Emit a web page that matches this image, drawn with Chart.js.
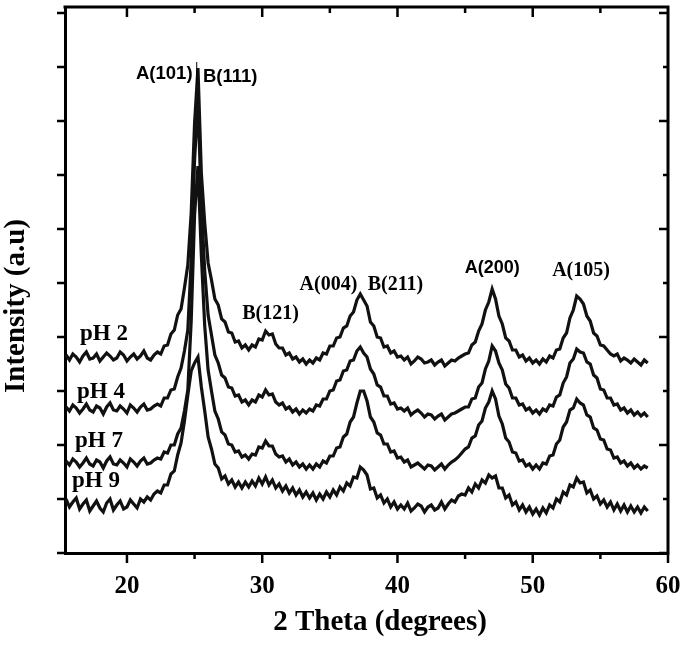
<!DOCTYPE html>
<html>
<head>
<meta charset="utf-8">
<title>XRD patterns</title>
<script src="https://cdn.jsdelivr.net/npm/chart.js@4.4.1/dist/chart.umd.min.js"></script>
<style>
  html, body { margin: 0; padding: 0; background: #fff; }
</style>
</head>
<body>
<canvas id="xrd" width="685" height="645"></canvas>
<script>
// scan grid, 2 theta from 15.5 to 58.5 in 0.25 deg steps
var theta = [];
for (var i = 0; i <= 172; i++) theta.push(15.5 + i * 0.25);

// intensities (a.u., curves already stacked with their offsets)
var ph2 = [198,193,199,196,191,197,201,194,195,199,192,196,200,197,193,195,201,198,192,196,199,194,197,202,195,193,198,
  201,199,207,208,219,223,238,244,
  265,288,340,430,485,380,330,290,
  273,254,248,234,231,221,220,211,212,205,208,203,
  208,206,214,213,222,218,219,209,
  205,205,198,200,194,196,191,194,189,193,
  190,195,193,200,199,207,207,215,216,225,227,237,241,253,
  259,253,247,231,227,216,215,206,207,200,202,196,
  197,193,196,189,192,196,194,190,191,193,188,191,193,187,190,193,192,195,197,199,
  200,208,211,222,229,243,251,264,
  254,237,229,215,212,203,203,196,198,192,195,190,
  193,189,194,191,197,195,203,204,215,220,235,243,
  257,254,249,237,232,220,217,208,
  207,203,199,197,199,192,195,193,190,194,191,188,193,190];

var ph4 = [146,142,148,145,140,144,149,143,141,147,145,139,146,150,143,142,147,144,140,148,145,141,146,149,143,144,147,
  149,147,155,155,163,164,176,185,
  202,223,292,393,452,348,282,238,
  218,198,190,178,175,166,165,157,158,151,153,148,
  153,151,158,156,163,158,159,151,
  148,150,144,146,141,144,139,143,140,144,
  142,148,147,154,154,162,163,172,173,182,183,192,193,202,
  206,200,196,184,179,168,166,157,157,149,150,144,
  145,142,145,138,141,143,140,136,139,138,134,137,139,133,136,139,140,142,144,146,
  146,154,155,166,170,184,192,207,
  202,190,183,169,165,155,155,148,149,143,145,140,
  143,139,144,142,148,147,156,158,170,176,190,194,
  204,201,200,191,189,178,175,164,
  163,155,155,148,149,143,145,140,143,138,141,137,140,136];

var ph7 = [92,88,94,91,86,90,95,89,87,93,91,85,92,96,89,88,93,90,86,94,91,87,92,95,89,90,93,
  95,94,101,100,108,108,119,125,
  142,163,232,338,387,298,227,183,
  162,142,134,121,118,109,108,101,102,96,98,94,
  99,98,106,105,112,107,107,99,
  96,97,91,94,88,91,86,89,84,88,
  84,89,86,92,90,97,97,105,106,116,119,131,136,150,
  162,162,152,136,131,120,118,109,109,101,102,95,
  96,91,93,86,88,90,87,84,88,87,83,86,89,84,88,91,93,96,100,104,
  106,115,117,128,132,145,151,162,
  154,137,129,115,111,101,100,92,93,87,89,84,
  88,84,90,89,97,98,109,113,126,131,143,145,
  154,150,148,138,136,125,123,114,
  113,104,103,95,96,90,92,87,90,85,88,84,87,85];

var ph9 = [54,46,51,55,44,49,53,42,47,52,45,41,50,54,43,48,52,44,46,53,49,45,54,51,56,53,59,
  62,60,68,68,79,82,98,110,
  132,158,182,190,196,166,142,116,
  104,89,85,74,77,69,73,66,71,65,71,66,
  72,67,75,69,76,68,73,65,
  69,62,67,60,65,58,63,56,61,55,
  60,53,59,54,61,56,63,58,66,62,70,67,76,75,
  86,83,78,64,65,55,58,50,54,46,51,44,
  48,44,50,42,45,49,47,41,46,48,43,45,51,44,49,53,51,57,59,58,
  65,61,69,65,73,70,78,75,
  77,65,65,55,58,48,51,43,48,41,46,39,
  44,38,45,40,48,45,54,51,61,58,68,66,
  75,70,71,60,63,54,57,49,
  53,46,51,43,49,42,48,41,47,41,46,40,46,42];

var seriesNames = ['pH 2', 'pH 4', 'pH 7', 'pH 9'];
var seriesData = [ph2, ph4, ph7, ph9];

var xTickValues = [20, 25, 30, 35, 40, 45, 50, 55, 60];
var yTickValues = [0, 54, 108, 162, 216, 270, 324, 378, 432, 486, 540];

// text placed in data units
var peakLabels = [
  { text: 'A(101)', t: 24.85, h: 479, align: 'right', font: 'bold 18.5px "Liberation Sans"' },
  { text: 'B(111)', t: 25.62, h: 476, align: 'left', font: 'bold 18.5px "Liberation Sans"' },
  { text: 'B(121)', t: 30.62, h: 239, align: 'center', font: 'bold 20px "Liberation Serif"' },
  { text: 'A(004)', t: 34.9, h: 268, align: 'center', font: 'bold 20px "Liberation Serif"' },
  { text: 'B(211)', t: 39.85, h: 268, align: 'center', font: 'bold 20px "Liberation Serif"' },
  { text: 'A(200)', t: 47.0, h: 285, align: 'center', font: 'bold 18px "Liberation Sans"' },
  { text: 'A(105)', t: 53.57, h: 282, align: 'center', font: 'bold 20px "Liberation Serif"' }
];
var phLabelPos = [ { t: 16.53, h: 219 }, { t: 16.31, h: 161 }, { t: 16.16, h: 112 }, { t: 15.94, h: 72 } ];

var datasets = seriesData.map(function (arr, k) {
  return {
    label: seriesNames[k],
    data: arr.map(function (v, j) { return { x: theta[j], y: v }; }),
    borderColor: '#111',
    borderWidth: 3.2,
    pointRadius: 0,
    tension: 0,
    fill: false
  };
});

var decorations = {
  id: 'decorations',
  afterDatasetsDraw: function (chart) {
    var c = chart.ctx, xs = chart.scales.x, ys = chart.scales.y;
    c.save();
    c.fillStyle = '#000';
    c.textBaseline = 'middle';
    peakLabels.forEach(function (l) {
      c.font = l.font;
      c.textAlign = l.align;
      c.fillText(l.text, xs.getPixelForValue(l.t), ys.getPixelForValue(l.h));
    });
    // marker line between A(101) and B(111)
    c.strokeStyle = '#000';
    c.lineWidth = 1;
    c.beginPath();
    c.moveTo(xs.getPixelForValue(25.16), ys.getPixelForValue(491));
    c.lineTo(xs.getPixelForValue(25.16), ys.getPixelForValue(468));
    c.stroke();
    c.font = 'bold 23px "Liberation Serif"';
    c.textAlign = 'left';
    seriesNames.forEach(function (n, k) {
      c.fillText(n, xs.getPixelForValue(phLabelPos[k].t), ys.getPixelForValue(phLabelPos[k].h));
    });
    c.restore();
  },
  afterDraw: function (chart) {
    var c = chart.ctx, a = chart.chartArea, xs = chart.scales.x, ys = chart.scales.y;
    c.save();
    c.strokeStyle = '#000';
    c.lineWidth = 3;
    c.beginPath();
    c.moveTo(a.left - 1.5, a.top);
    c.lineTo(a.right, a.top);
    c.lineTo(a.right, a.bottom + 1.5);
    c.stroke();
    c.lineWidth = 2.5;
    c.beginPath();
    yTickValues.forEach(function (v) {
      var y = ys.getPixelForValue(v);
      c.moveTo(a.left, y); c.lineTo(a.left - 8, y);
      var len = (v % 108 === 0) ? 9 : 5;
      c.moveTo(a.right, y); c.lineTo(a.right - len, y);
    });
    xTickValues.forEach(function (v) {
      var x = xs.getPixelForValue(v);
      var len = (v % 10 === 0) ? 10 : 6;
      c.moveTo(x, a.bottom); c.lineTo(x, a.bottom + len);
      if (v < 60) { c.moveTo(x, a.top); c.lineTo(x, a.top + len); }
    });
    c.stroke();
    // axis titles
    c.fillStyle = '#000';
    c.font = 'bold 29px "Liberation Serif"';
    c.textAlign = 'center';
    c.textBaseline = 'alphabetic';
    c.fillText('2 Theta (degrees)', 380, 630);
    c.translate(24, 306);
    c.rotate(-Math.PI / 2);
    c.fillText('Intensity (a.u)', 0, 0);
    c.restore();
  }
};

var ctx = document.getElementById('xrd').getContext('2d');
var xrdChart = new Chart(ctx, {
  type: 'line',
  data: { datasets: datasets },
  options: {
    responsive: false,
    animation: false,
    devicePixelRatio: 1,
    layout: { padding: { top: 7, right: 17, left: 0, bottom: 0 } },
    plugins: { legend: { display: false }, tooltip: { enabled: false } },
    scales: {
      x: {
        type: 'linear',
        min: 15.42,
        max: 60,
        afterBuildTicks: function (s) { s.ticks = xTickValues.map(function (v) { return { value: v }; }); },
        afterFit: function (s) { s.height = 92; s.paddingLeft = 0; s.paddingRight = 0; },
        grid: { display: false, drawTicks: true, tickLength: 8 },
        border: { display: true, color: '#000', width: 3 },
        ticks: {
          color: '#000',
          padding: 11,
          maxRotation: 0,
          font: { family: 'Liberation Serif', weight: 'bold', size: 25 },
          callback: function (v) { return v % 10 === 0 ? String(v) : ''; }
        }
      },
      y: {
        min: 0,
        max: 546,
        afterBuildTicks: function (s) { s.ticks = yTickValues.map(function (v) { return { value: v }; }); },
        afterFit: function (s) { s.width = 65; s.paddingTop = 0; s.paddingBottom = 0; },
        grid: { display: false },
        border: { display: true, color: '#000', width: 3 },
        ticks: { display: false }
      }
    }
  },
  plugins: [decorations]
});
</script>
</body>
</html>
